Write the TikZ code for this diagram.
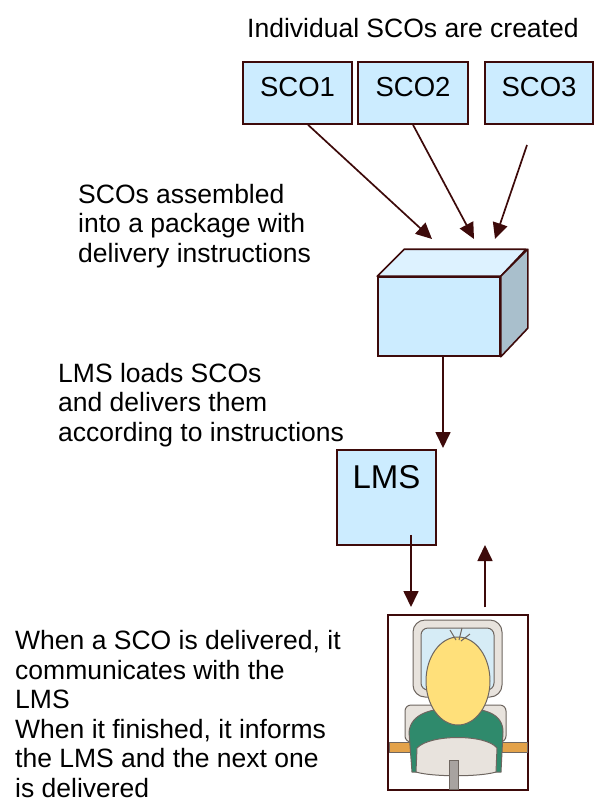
\documentclass[tikz,border=0pt]{standalone}
\usepackage{fontspec}
\setmainfont{Liberation Sans}
\usetikzlibrary{arrows.meta,calc}
\definecolor{scoblue}{HTML}{CCECFF}
\definecolor{scotop}{HTML}{DDF2FF}
\definecolor{scoside}{HTML}{A9BFCC}
\definecolor{scoedge}{HTML}{3D0A0A}
\definecolor{hairyel}{HTML}{FFE07A}
\definecolor{shirtgr}{HTML}{2F8A6C}
\definecolor{deskor}{HTML}{E3A24A}
\definecolor{chairgy}{HTML}{E8E3DD}
\definecolor{chairdk}{HTML}{6E6660}
\definecolor{screenbl}{HTML}{D6ECF6}

\begin{document}
\begin{tikzpicture}[x=1pt,y=-1pt,
  sco/.style={draw=scoedge,line width=1.6pt,fill=scoblue,minimum width=109pt,
              minimum height=62pt,inner sep=0pt,font=\fontsize{27.5}{30}\selectfont,
              text height=19.5pt,text depth=12pt},
  txt/.style={inner sep=0pt,anchor=base west,align=left,
              font=\fontsize{26.5}{29.5}\selectfont},
  flow/.style={draw=scoedge,line width=1.7pt,
               -{Triangle[length=16pt,width=15pt]},scoedge},
  artline/.style={draw=chairdk,line width=1pt}
]
\useasboundingbox (0,0) rectangle (595,803);

% ---- SCOs ---------------------------------------------------
\node[txt] (title) at (247,37) {Individual SCOs are created};
\node[sco] (sco1) at (297.5,93) {SCO1};
\node[sco,minimum width=110pt] (sco2) at (413,93) {SCO2};
\node[sco,minimum width=108pt] (sco3) at (539,93) {SCO3};

% ---- Package ------------------------------------------------
% (base anchor sits on the last line)
\node[txt] (asm) at (78,262)
  {SCOs assembled\\into a package with\\delivery instructions};
\node[draw=scoedge,line width=1.6pt,fill=scoblue,minimum width=122pt,
      minimum height=79pt] (pkg) at (439,316.5) {};
\draw[scoedge,line width=1.6pt,fill=scotop,line join=round]
  (pkg.north west) -- ++(27,-27) -- ++(122,0) -- (pkg.north east) -- cycle;
\draw[scoedge,line width=1.6pt,fill=scoside,line join=round]
  (pkg.north east) -- ++(27,-27) -- ++(0,79) -- (pkg.south east) -- cycle;

\coordinate (in1) at (432,239);
\coordinate (in2) at (474,239);
\coordinate (in3) at (495,239);
\coordinate (from3) at (527,145);
\draw[flow] ($(sco1.south)+(10.5,0)$) -- (in1);
\draw[flow] (sco2.south) -- (in2);
\draw[flow] (from3) -- (in3);

% ---- LMS ----------------------------------------------------
\node[txt] (load) at (58,441)
  {LMS loads SCOs\\and delivers them\\according to instructions};
\node[sco,minimum width=99pt,minimum height=95pt,
      font=\fontsize{33}{36}\selectfont,text height=24pt,text depth=42pt]
  (lms) at (386.5,497.5) {LMS};
\coordinate (lmsin) at (443,448);
\draw[flow] (pkg.south -| lmsin) -- (lmsin);

% ---- Learner ------------------------------------------------
\node[txt] (note) at (15,797)
  {When a SCO is delivered, it\\communicates with the\\LMS\\When it finished, it informs\\the LMS and the next one\\is delivered};
\node[draw=scoedge,line width=1.2pt,minimum width=140pt,minimum height=175pt]
  (user) at (458,702.5) {};

% monitor
\draw[artline,fill=chairgy,rounded corners=12pt] (413,620) rectangle (502,697);
\draw[artline,fill=screenbl,rounded corners=7pt] (421,628) rectangle (494,690);
% chair back and desk
\draw[artline,fill=chairgy,rounded corners=6pt] (405,705) rectangle (506,742);
\draw[artline,fill=deskor] (389,742) rectangle (418,752);
\draw[artline,fill=deskor] (497,742) rectangle (527,752);
% shirt
\draw[artline,fill=shirtgr]
  (412,772) -- (409,732) .. controls (411,713) and (432,708) .. (458,708)
  .. controls (484,708) and (503,713) .. (503,732) -- (501,772) -- cycle;
% hair
\draw[artline,fill=hairyel] (458,681) ellipse (32 and 44);
\draw[artline] (456,640) -- (450,630) (459,640) -- (462,628) (461,641) -- (470,634);
% chair seat and post
\draw[artline,fill=chairgy]
  (416,772) -- (417,748) .. controls (430,734) and (486,734) .. (497,748)
  -- (496,772) .. controls (480,777) and (432,777) .. cycle;
\draw[artline,fill=chairdk!60] (449,760) rectangle (458,789);

% ---- LMS <-> learner ----------------------------------------
\coordinate (userin) at (411,607);
\coordinate (lmsback) at (485,545);
\draw[flow] ($(lms.south -| userin)+(0,-11)$) -- (userin);
\draw[flow] ($(user.north -| lmsback)+(0,-7)$) -- (lmsback);

\end{tikzpicture}
\end{document}
